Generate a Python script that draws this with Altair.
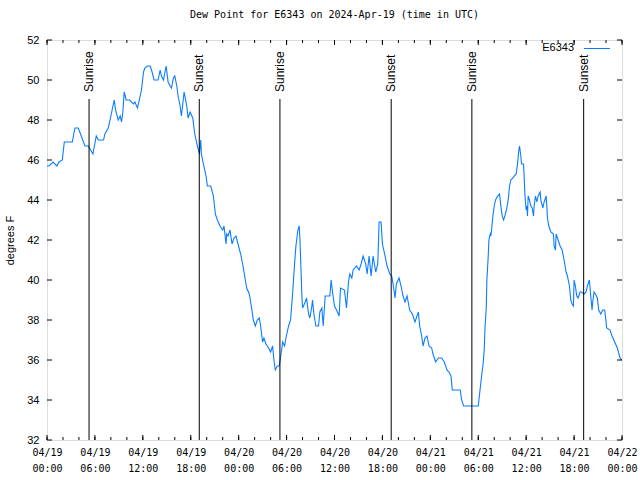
import altair as alt
import pandas as pd

station = "E6343"
title_text = "Dew Point for E6343 on 2024-Apr-19 (time in UTC)"

# minutes since 2024-04-19 00:00 UTC
minutes = [
    0, 15, 45, 75, 90, 115, 130, 190, 210, 235,
    285, 310, 345, 370, 385, 425, 435, 460, 480, 505,
    515, 535, 550, 560, 570, 580, 595, 620, 650, 660,
    680, 700, 710, 725, 735, 755, 775, 785, 805, 835,
    850, 860, 875, 895, 910, 925, 935, 950, 960, 975,
    985, 1000, 1010, 1025, 1030, 1050, 1060, 1075, 1095, 1110,
    1130, 1145, 1155, 1160, 1175, 1195, 1205, 1230, 1250, 1265,
    1280, 1300, 1320, 1330, 1345, 1350, 1360, 1375, 1390, 1405,
    1420, 1435, 1455, 1470, 1490, 1500, 1520, 1535, 1550, 1565,
    1580, 1595, 1605, 1620, 1630, 1645, 1665, 1680, 1695, 1705,
    1715, 1730, 1745, 1765, 1770, 1785, 1795, 1815, 1830, 1845,
    1860, 1870, 1885, 1895, 1900, 1915, 1920, 1940, 1950, 1965,
    1975, 1990, 1995, 2005, 2020, 2040, 2050, 2065, 2075, 2090,
    2125, 2135, 2145, 2160, 2175, 2195, 2205, 2235, 2250, 2265,
    2275, 2290, 2300, 2325, 2345, 2360, 2375, 2395, 2405, 2420,
    2435, 2450, 2470, 2485, 2495, 2510, 2520, 2540, 2555, 2575,
    2590, 2600, 2615, 2625, 2645, 2660, 2675, 2690, 2705, 2725,
    2745, 2765, 2790, 2800, 2815, 2825, 2840, 2855, 2870, 2890,
    2900, 2920, 2940, 2965, 2985, 3005, 3020, 3035, 3045, 3105,
    3115, 3130, 3240, 3250, 3265, 3275, 3285, 3290, 3300, 3305,
    3315, 3320, 3330, 3335, 3340, 3350, 3360, 3370, 3385, 3400,
    3410, 3420, 3430, 3440, 3455, 3465, 3475, 3485, 3500, 3510,
    3525, 3535, 3545, 3550, 3560, 3565, 3580, 3585, 3590, 3600,
    3605, 3610, 3615, 3625, 3635, 3645, 3655, 3660, 3670, 3680,
    3690, 3705, 3710, 3725, 3735, 3750, 3755, 3760, 3770, 3785,
    3805, 3810, 3820, 3825, 3835, 3855, 3870, 3885, 3900, 3910,
    3925, 3935, 3945, 3955, 3960, 3970, 3980, 3990, 4005, 4015,
    4035, 4050, 4060, 4075, 4085, 4095, 4100, 4110, 4120, 4135,
    4145, 4160, 4175, 4190, 4205, 4230, 4245, 4265, 4285, 4305, 4320,
]

dewpoint = [
    45.7, 45.7, 45.9, 45.7, 45.9, 46.0, 46.9, 46.9, 47.6, 47.6,
    46.7, 46.7, 46.3, 47.2, 47.0, 47.0, 47.3, 47.6, 48.2, 49.0,
    48.5, 48.0, 48.2, 47.9, 48.4, 49.4, 49.0, 49.0, 48.8, 48.9,
    48.6, 49.2, 49.5, 50.4, 50.6, 50.7, 50.7, 50.5, 50.0, 50.0,
    50.5, 50.2, 50.0, 50.7, 49.9, 49.7, 49.6, 50.1, 50.2, 49.7,
    49.2, 48.7, 48.2, 49.1, 49.4, 48.7, 48.1, 48.4, 48.1, 47.3,
    46.7, 46.3, 47.0, 46.3, 45.8, 45.2, 44.7, 44.7, 44.2, 43.3,
    43.0, 42.7, 42.5, 42.7, 41.8, 42.3, 42.2, 42.5, 41.8, 42.1,
    42.2, 41.8, 41.3, 40.8, 40.0, 39.6, 39.3, 38.7, 38.0, 37.7,
    38.0, 38.1, 37.7, 36.9, 37.1, 36.8, 36.6, 36.4, 36.7, 36.0,
    35.5, 35.7, 35.7, 36.6, 36.9, 36.7, 37.1, 37.7, 38.0, 39.3,
    40.8, 41.7, 42.5, 42.7, 42.1, 39.2, 38.6, 38.9, 39.1, 38.3,
    38.1, 38.7, 39.0, 38.3, 37.7, 37.7, 38.4, 38.6, 37.7, 39.2,
    39.2, 40.0, 39.4, 38.7, 38.5, 38.2, 39.6, 39.5, 38.6, 39.9,
    40.3, 40.1, 40.5, 40.7, 40.5, 40.8, 41.2, 40.8, 40.3, 41.2,
    40.2, 41.2, 40.4, 40.8, 42.9, 42.9, 41.8, 41.2, 40.7, 40.3,
    40.2, 39.8, 39.1, 39.8, 40.1, 39.7, 39.2, 38.9, 39.2, 38.5,
    38.3, 37.9, 38.4, 37.7, 37.2, 36.7, 37.1, 37.2, 36.7, 36.6,
    36.3, 35.9, 36.1, 36.1, 35.9, 35.5, 35.4, 35.2, 34.5, 34.5,
    34.0, 33.7, 33.7, 34.3, 35.2, 35.7, 36.5, 37.5, 38.6, 40.0,
    41.2, 42.0, 42.3, 42.2, 42.5, 43.2, 43.7, 44.0, 44.2, 44.3,
    43.7, 43.2, 43.0, 43.2, 43.6, 44.0, 44.7, 45.0, 45.1, 45.2,
    45.3, 45.8, 46.5, 46.7, 46.2, 45.8, 45.8, 45.2, 44.3, 43.5,
    43.7, 43.2, 44.2, 44.0, 43.7, 43.6, 43.2, 43.7, 44.2, 43.9,
    44.2, 44.4, 44.0, 43.6, 43.9, 44.2, 43.7, 43.1, 42.7, 42.4,
    42.3, 41.7, 41.5, 42.3, 42.1, 41.7, 41.5, 41.0, 40.4, 40.2,
    39.7, 39.0, 38.8, 38.7, 40.0, 39.7, 39.2, 39.1, 39.4, 39.4,
    39.3, 39.4, 39.7, 40.0, 39.2, 38.5, 38.9, 39.4, 39.3, 39.1,
    38.5, 38.3, 38.5, 38.5, 37.6, 37.5, 37.2, 36.9, 36.6, 36.1, 36.0,
]

event_minutes = [316, 1144, 1750, 2586, 3192, 4032]
event_labels = ["Sunrise", "Sunset", "Sunrise", "Sunset", "Sunrise", "Sunset"]

x_major_hours = list(range(0, 73, 6))
x_minor_hours = list(range(0, 73, 2))
y_tick_values = list(range(32, 53, 2))

n = min(len(minutes), len(dewpoint))
df = pd.DataFrame({"t": [m / 60 for m in minutes[:n]], "v": dewpoint[:n]})
ev = pd.DataFrame({"t": [m / 60 for m in event_minutes], "label": event_labels})
major_df = pd.DataFrame({"t": x_major_hours})
minor_df = pd.DataFrame({"t": x_minor_hours})
ytick_df = pd.DataFrame({"v": y_tick_values})
legend_df = pd.DataFrame({"name": [station]})

XS = alt.Scale(domain=[0, 72], nice=False, zero=False)
YS = alt.Scale(domain=[32, 52], nice=False, zero=False)

label_expr = ("['04/' + (19 + floor(datum.value / 24)), "
              "(datum.value % 24 < 10 ? '0' : '') + (datum.value % 24) + ':00']")

XA = alt.Axis(
    values=x_major_hours, labelExpr=label_expr, ticks=False, tickSize=0,
    domain=False, grid=False, labelFont="DejaVu Sans Mono", labelFontSize=10,
    labelLineHeight=16, labelPadding=7, labelFlush=False, labelOverlap=False,
    labelColor="black", labelBaseline="top", title=None)
YA = alt.Axis(
    values=y_tick_values, ticks=False, tickSize=0, domain=False, grid=False,
    labelFont="Liberation Sans", labelFontSize=11, labelPadding=8,
    labelColor="black", title="degrees F", titleFont="Liberation Sans",
    titleFontSize=11, titleFontWeight="normal", titleColor="black",
    titleAngle=270, titleX=-37, titleY=200, titleAlign="center",
    titleBaseline="middle")

XE = alt.X("t:Q", scale=XS, axis=XA)
YE = alt.Y("v:Q", scale=YS, axis=YA)

line = alt.Chart(df).mark_line(color="#0a7cff", strokeWidth=1.1, clip=True).encode(
    x=XE, y=YE)

def xrule(data, y1, y2):
    return alt.Chart(data).mark_rule(color="black", strokeWidth=1).encode(
        x=XE, y=alt.value(y1), y2=alt.value(y2))

def yrule(x1, x2):
    return alt.Chart(ytick_df).mark_rule(color="black", strokeWidth=1).encode(
        y=YE, x=alt.value(x1), x2=alt.value(x2))

ticks = [
    xrule(minor_df, 400, 397), xrule(minor_df, 0, 3),
    xrule(major_df, 400, 395), xrule(major_df, 0, 5),
    yrule(0, 5), yrule(570, 575),
]

ev_rules = alt.Chart(ev).mark_rule(color="black", strokeWidth=1).encode(
    x=XE, y=alt.value(59), y2=alt.value(400))

ev_text = alt.Chart(ev).mark_text(
    angle=270, align="left", baseline="middle", font="Liberation Sans",
    fontSize=12, color="black").encode(x=XE, y=alt.value(52), text="label:N")

leg_text = alt.Chart(legend_df).mark_text(
    align="right", baseline="middle", font="Liberation Sans", fontSize=11,
    color="black").encode(text="name:N", x=alt.value(527), y=alt.value(8))
leg_line = alt.Chart(legend_df).mark_rule(color="#0a7cff", strokeWidth=1).encode(
    x=alt.value(537), x2=alt.value(563), y=alt.value(8.5))

chart = alt.layer(line, *ticks, ev_rules, ev_text, leg_text, leg_line).properties(
    width=575, height=400,
    title=alt.TitleParams(title_text, font="DejaVu Sans Mono", fontSize=10,
                          fontWeight="normal", color="black", offset=14,
                          anchor="middle"),
    autosize=alt.AutoSizeParams(type="none"),
    padding={"left": 47, "top": 40, "right": 18, "bottom": 40},
).configure_view(stroke="black", strokeWidth=1).configure(background="white")

chart.save("out.html", embed_options={"renderer": "svg", "actions": False})
